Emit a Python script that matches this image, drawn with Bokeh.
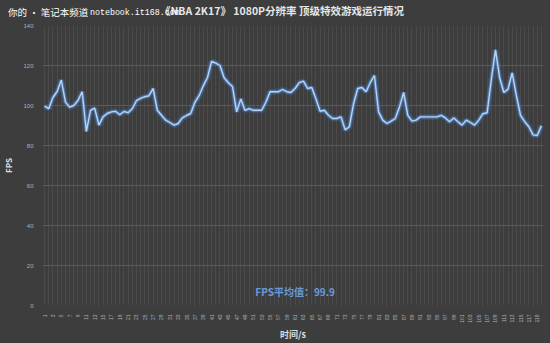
from bokeh.plotting import figure
from bokeh.layouts import column
from bokeh.models import Range1d, FixedTicker, Label, ColumnDataSource, Div
from bokeh.embed import file_html
from bokeh.resources import INLINE

seconds = list(range(1, 121))
fps = [99.7, 98.4, 104.0, 107.0, 112.7, 101.7, 99.2, 100.0, 102.5, 106.9,
       87.0, 97.6, 98.7, 90.2, 94.3, 96.0, 96.8, 97.1, 95.4, 97.0,
       96.4, 98.4, 102.4, 103.6, 104.4, 104.9, 108.5, 97.6, 95.1, 92.7,
       91.5, 90.2, 91.0, 93.8, 95.0, 96.0, 101.6, 104.9, 109.8, 113.9,
       122.0, 121.2, 120.0, 113.9, 111.4, 109.5, 96.8, 103.3, 97.6, 98.4,
       97.6, 97.6, 97.6, 101.6, 106.9, 106.9, 106.9, 108.0, 106.9, 106.5,
       108.5, 111.4, 112.2, 108.5, 109.0, 103.3, 97.1, 97.6, 95.1, 93.5,
       93.5, 94.3, 87.8, 89.4, 100.8, 108.5, 109.0, 106.9, 111.4, 115.0,
       96.8, 92.7, 91.0, 92.2, 93.5, 99.2, 106.5, 95.1, 92.2, 92.7,
       94.3, 94.3, 94.3, 94.3, 94.3, 95.1, 93.8, 91.9, 93.8, 91.9,
       90.2, 92.7, 91.5, 90.2, 92.7, 95.9, 96.4, 113.0, 127.8, 113.9,
       106.5, 108.2, 116.3, 104.9, 95.1, 91.9, 89.4, 85.3, 85.0, 89.9]
x_tick_values = list(range(1, 120, 2))
y_tick_values = [0, 20, 40, 60, 80, 100, 120, 140]
title_text = "《NBA 2K17》 1080P分辨率 顶级特效游戏运行情况"
watermark_cn = "你的 • 笔记本频道"
watermark_en = "notebook.it168.com"
avg_text = "FPS平均值：99.9"
x_title = "时间/s"
y_title = "FPS"

BG = "#3d3d3d"
CJK = "Noto Sans CJK SC"

# ---- header (title + watermark) ----
header_html = (
    '<div style="position:relative;width:550px;height:21px;overflow:visible;">'
    f'<span style="position:absolute;left:160px;top:4px;white-space:nowrap;'
    f'font-family:\'{CJK}\';font-size:10.5px;font-weight:bold;line-height:14px;color:#e6e6e6;">{title_text}</span>'
    f'<span style="position:absolute;left:8px;top:5px;white-space:nowrap;'
    f'font-family:\'{CJK}\';font-size:9.5px;line-height:14px;color:#ffffff;">{watermark_cn}</span>'
    f'<span style="position:absolute;left:90px;top:6px;white-space:nowrap;'
    f'font-family:\'Liberation Mono\';font-size:8.3px;line-height:14px;color:#ffffff;">{watermark_en}</span>'
    '</div>'
)
header = Div(text=header_html, width=550, height=21, margin=0,
             styles={"background-color": BG, "overflow": "visible"})

# ---- chart ----
src = ColumnDataSource(dict(x=seconds, y=fps))

chart = figure(width=550, height=322, output_backend="svg", toolbar_location=None,
               x_range=Range1d(0.5, 120.5), y_range=Range1d(0, 140),
               min_border_left=29, min_border_right=7, min_border_top=4, min_border_bottom=32)
chart.background_fill_color = BG
chart.border_fill_color = BG
chart.outline_line_color = None
chart.margin = 0

# glow + core line
chart.line("x", "y", source=src, line_width=6, line_color="#3e6aa3", line_alpha=0.35)
chart.line("x", "y", source=src, line_width=3.5, line_color="#5a8ccc", line_alpha=0.55)
chart.line("x", "y", source=src, line_width=1.4, line_color="#b8d4f5")

# axes
chart.yaxis.ticker = FixedTicker(ticks=y_tick_values)
chart.xaxis.ticker = FixedTicker(ticks=x_tick_values)
chart.xgrid.ticker = FixedTicker(ticks=seconds)
chart.xgrid.grid_line_color = "#4a4a4a"
chart.ygrid.grid_line_color = "#5a5a5a"

for ax in (chart.xaxis, chart.yaxis):
    ax.axis_line_color = None
    ax.major_tick_line_color = None
    ax.minor_tick_line_color = None
    ax.major_label_text_color = "#b0b0b0"
    ax.axis_label_text_color = "#dddddd"
    ax.axis_label_text_font = CJK
    ax.axis_label_text_font_style = "bold"

chart.yaxis.major_label_text_font_size = "6px"
chart.yaxis.major_label_standoff = 3
chart.yaxis.axis_label = y_title
chart.yaxis.axis_label_text_font_size = "8px"
chart.yaxis.axis_label_standoff = 6

chart.xaxis.major_label_text_font_size = "5px"
chart.xaxis.major_label_orientation = 1.5708
chart.xaxis.major_label_standoff = 3
chart.xaxis.axis_label = x_title
chart.xaxis.axis_label_text_font_size = "9px"
chart.xaxis.axis_label_standoff = 2

chart.add_layout(Label(x=61.0, y=6.9, text=avg_text, text_font=CJK,
                       text_font_size="10px", text_font_style="bold",
                       text_color="#6a9ad6", text_align="center", text_baseline="middle"))

p = column(header, chart, spacing=0, margin=0, styles={"background-color": BG})

open("out.html", "w").write(file_html(p, INLINE))
